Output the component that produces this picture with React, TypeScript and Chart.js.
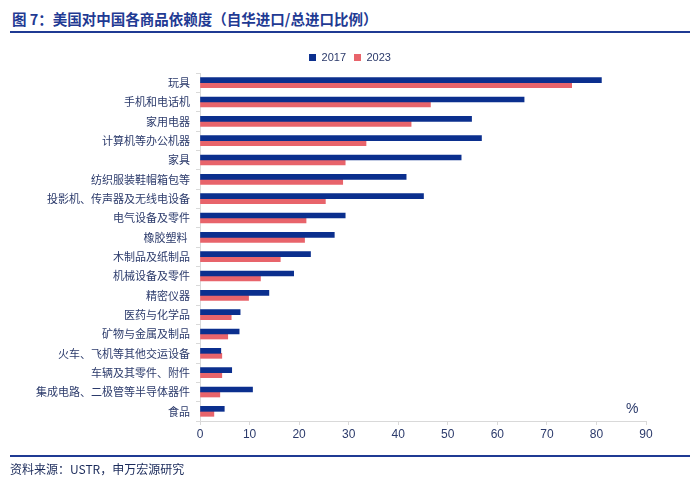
import React, { useEffect, useRef } from "react";
import { Chart, registerables } from "chart.js";

Chart.register(...registerables);

const categories = [
  "玩具",
  "手机和电话机",
  "家用电器",
  "计算机等办公机器",
  "家具",
  "纺织服装鞋帽箱包等",
  "投影机、传声器及无线电设备",
  "电气设备及零件",
  "橡胶塑料 ",
  "木制品及纸制品",
  "机械设备及零件",
  "精密仪器",
  "医药与化学品",
  "矿物与金属及制品",
  "火车、飞机等其他交运设备",
  "车辆及其零件、附件",
  "集成电路、二极管等半导体器件",
  "食品",
];

const values2017 = [81.0, 65.4, 54.8, 56.8, 52.7, 41.6, 45.1, 29.3, 27.1, 22.3, 18.9, 13.9, 8.1, 7.9, 4.2, 6.4, 10.6, 4.9];
const values2023 = [75.0, 46.5, 42.6, 33.5, 29.3, 28.8, 25.3, 21.4, 21.1, 16.2, 12.2, 9.8, 6.3, 5.6, 4.4, 4.4, 4.0, 2.8];

const xTicks = [0, 10, 20, 30, 40, 50, 60, 70, 80, 90];

const FONT = 'Arial, "Liberation Sans", "Noto Sans CJK SC", sans-serif';
const CJK = '"Microsoft YaHei", "Noto Sans CJK SC", sans-serif';
const BLUE = "#0B2F8E";
const RED = "#E8646B";
const TEXT = "#2B3A6B";
const AXIS = "#D9D9D9";

const legendCenter = {
  id: "legendCenter",
  afterLayout(chart: any) {
    const l = chart.legend;
    if (l) {
      l.left = 0;
      l.right = chart.width;
      l.width = chart.width;
    }
  },
};

export default function App() {
  const canvasRef = useRef<HTMLCanvasElement | null>(null);

  useEffect(() => {
    document.body.style.margin = "0";
    const canvas = canvasRef.current;
    if (!canvas) return;
    const chart = new Chart(canvas, {
      type: "bar",
      data: {
        labels: categories,
        datasets: [
          { label: "2017", data: values2017, backgroundColor: BLUE, barThickness: 5 },
          { label: "2023", data: values2023, backgroundColor: RED, barThickness: 5 },
        ],
      },
      plugins: [legendCenter],
      options: {
        indexAxis: "y",
        animation: false,
        responsive: false,
        maintainAspectRatio: false,
        layout: { padding: { top: 44, right: 54, bottom: 40, left: 0 } },
        plugins: {
          legend: {
            display: true,
            position: "top",
            labels: {
              boxWidth: 7,
              boxHeight: 7,
              padding: 8,
              color: TEXT,
              font: { family: FONT, size: 11 },
            },
          },
          title: { display: false },
          tooltip: { enabled: false },
        },
        scales: {
          x: {
            min: 0,
            max: 90,
            afterBuildTicks: (scale: any) => {
              scale.ticks = xTicks.map((v) => ({ value: v }));
            },
            afterFit: (scale: any) => {
              scale.height = 20;
            },
            ticks: {
              color: TEXT,
              font: { family: FONT, size: 12 },
              padding: 2,
              maxRotation: 0,
            },
            grid: {
              display: true,
              drawOnChartArea: false,
              drawTicks: true,
              tickLength: 4,
              color: AXIS,
            },
            border: { display: true, color: AXIS, width: 1 },
          },
          y: {
            afterFit: (scale: any) => {
              scale.width = 200;
            },
            ticks: {
              color: TEXT,
              font: { family: CJK, size: 11 },
              padding: 6,
              autoSkip: false,
            },
            grid: {
              display: true,
              drawOnChartArea: false,
              drawTicks: true,
              tickLength: 4,
              color: AXIS,
              offset: true,
            },
            border: { display: true, color: AXIS, width: 1 },
          },
        },
      },
    });
    return () => chart.destroy();
  }, []);

  return (
    <div style={{ position: "relative", width: 700, height: 481, background: "#fff", overflow: "hidden" }}>
      <div
        style={{
          position: "absolute",
          left: 12,
          top: 10,
          fontFamily: CJK,
          fontSize: 14.5,
          fontWeight: "bold",
          color: "#1F3A93",
          lineHeight: "18px",
          whiteSpace: "nowrap",
        }}
      >
        图 7：美国对中国各商品依赖度（自华进口/总进口比例）
      </div>
      <div style={{ position: "absolute", left: 10, top: 31, width: 680, height: 2, background: "#1F3A93" }} />
      <canvas ref={canvasRef} width={700} height={481} style={{ position: "absolute", left: 0, top: 0 }} />
      <div
        style={{
          position: "absolute",
          left: 626,
          top: 399,
          fontFamily: FONT,
          fontSize: 14,
          color: TEXT,
          lineHeight: "18px",
        }}
      >
        %
      </div>
      <div style={{ position: "absolute", left: 10, top: 455, width: 680, height: 1.5, background: "#1F3A93" }} />
      <div
        style={{
          position: "absolute",
          left: 10,
          top: 461,
          fontFamily: CJK,
          fontSize: 12,
          color: "#1a2a5a",
          lineHeight: "16px",
          whiteSpace: "nowrap",
        }}
      >
        资料来源：USTR，申万宏源研究
      </div>
    </div>
  );
}
